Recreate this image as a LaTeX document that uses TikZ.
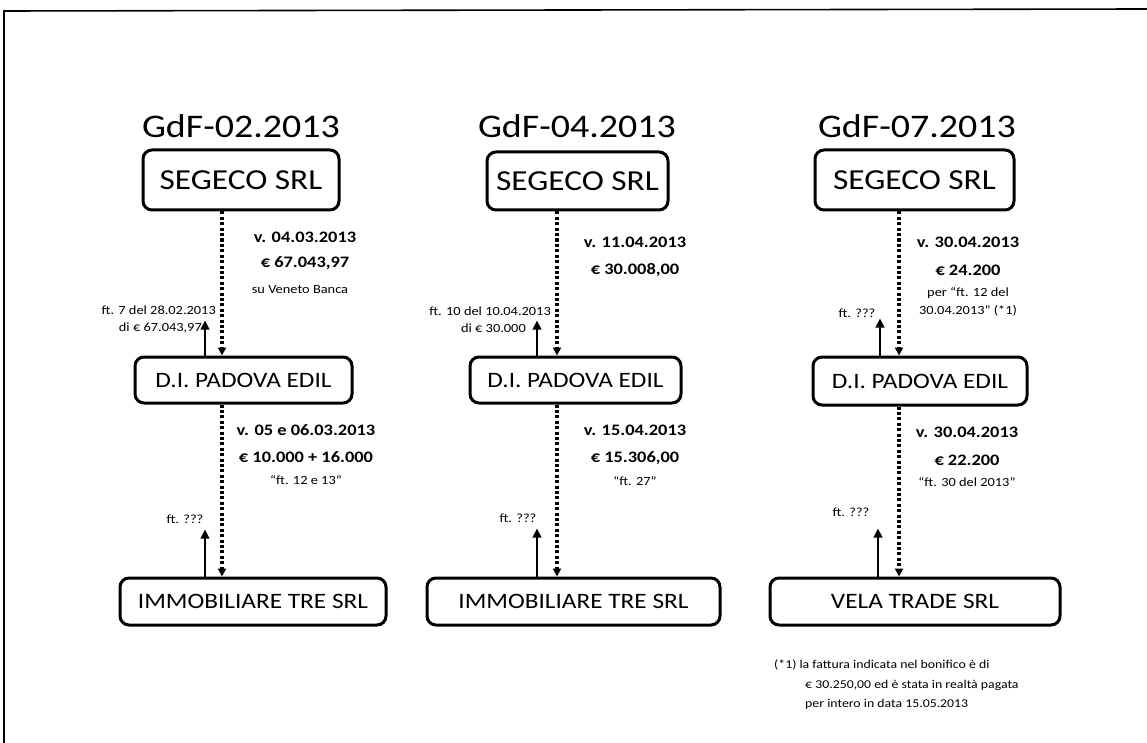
\documentclass[tikz,border=0pt]{standalone}
\usepackage{fontspec}
\setmainfont[FakeStretch=1.15]{Carlito}
\usetikzlibrary{arrows.meta}
\tikzset{
  box/.style={draw, line width=3pt, rounded corners=9pt, inner sep=0pt, align=center},
  topbox/.style={box, font=\fontsize{29}{29}\selectfont},
  midbox/.style={box, font=\fontsize{22}{22}\selectfont},
  botbox/.style={box, font=\fontsize{22}{22}\selectfont},
  title/.style={font=\fontsize{33}{33}\selectfont},
  big/.style={font=\bfseries\fontsize{16}{16}\selectfont, inner sep=0pt},
  small/.style={font=\fontsize{12.5}{15}\selectfont, inner sep=0pt},
  dotarrow/.style={line width=3.4pt, dash pattern=on 3pt off 2.4pt, -{Triangle[length=8pt,width=8pt]}},
  uparrow/.style={line width=2.8pt, -{Triangle[length=9pt,width=8.5pt]}},
  frame/.style={line width=1.6pt}
}
\begin{document}
\begin{tikzpicture}[x=1pt,y=-1pt]
\useasboundingbox (0,0) rectangle (1147,743);
% page frame
\coordinate (fa) at (4,743);
\coordinate (fb) at (4,11);
\coordinate (fc) at (1147,9);
\draw[frame] (fa) -- (fb) -- (fc);

% ---------- Column 1 ----------
\node[title] (t1) at (241,126) {GdF-02.2013};
\node[topbox, minimum width=196pt, minimum height=60pt] (s1) at (241,180) {SEGECO SRL};
\node[midbox, minimum width=217pt, minimum height=46pt] (p1) at (243.5,380) {D.I. PADOVA EDIL};
\node[botbox, minimum width=266pt, minimum height=47pt] (b1) at (253,601.5) {IMMOBILIARE TRE SRL};
\coordinate (d1) at (222,0);
\coordinate (u1) at (205,0);
\draw[dotarrow] (d1 |- s1.south) -- (d1 |- p1.north);
\draw[dotarrow] (d1 |- p1.south) -- (d1 |- b1.north);
\draw[uparrow] (u1 |- p1.north) -- ++(0,-35);
\draw[uparrow] (u1 |- b1.north) -- ++(0,-47);
\node[big] (l1a) at (305,237) {v. 04.03.2013};
\node[big] (l1b) at (305,263) {€ 67.043,97};
\node[small] (l1c) at (300,290) {su Veneto Banca};
\node[small, anchor=east] (l1d) at (216,310) {ft. 7 del 28.02.2013};
\node[small, anchor=east] (l1e) at (202,328) {di € 67.043,97};
\node[big] (l1f) at (306,430) {v. 05 e 06.03.2013};
\node[big] (l1g) at (306,457) {€ 10.000 + 16.000};
\node[small] (l1h) at (306,480) {“ft. 12 e 13”};
\node[small] (l1i) at (185,519) {ft. ???};

% ---------- Column 2 ----------
\node[title] (t2) at (577,126) {GdF-04.2013};
\node[topbox, minimum width=181pt, minimum height=58pt] (s2) at (577.5,181) {SEGECO SRL};
\node[midbox, minimum width=211pt, minimum height=46pt] (p2) at (575.5,380) {D.I. PADOVA EDIL};
\node[botbox, minimum width=293pt, minimum height=47pt] (b2) at (573.5,601.5) {IMMOBILIARE TRE SRL};
\coordinate (d2) at (557,0);
\coordinate (u2) at (537,0);
\draw[dotarrow] (d2 |- s2.south) -- (d2 |- p2.north);
\draw[dotarrow] (d2 |- p2.south) -- (d2 |- b2.north);
\draw[uparrow] (u2 |- p2.north) -- ++(0,-35);
\draw[uparrow] (u2 |- b2.north) -- ++(0,-48);
\node[big] (l2a) at (635,242) {v. 11.04.2013};
\node[big] (l2b) at (635,270) {€ 30.008,00};
\node[small, anchor=east] (l2d) at (551,311) {ft. 10 del 10.04.2013};
\node[small, anchor=east] (l2e) at (526,328) {di € 30.000};
\node[big] (l2f) at (635,430) {v. 15.04.2013};
\node[big] (l2g) at (635,458) {€ 15.306,00};
\node[small] (l2h) at (635,481) {“ft. 27”};
\node[small] (l2i) at (518,518) {ft. ???};

% ---------- Column 3 ----------
\node[title] (t3) at (917,126) {GdF-07.2013};
\node[topbox, minimum width=199pt, minimum height=60pt] (s3) at (914.5,180) {SEGECO SRL};
\node[midbox, minimum width=214pt, minimum height=48pt] (p3) at (920,381) {D.I. PADOVA EDIL};
\node[botbox, minimum width=290pt, minimum height=47pt] (b3) at (915,601.5) {VELA TRADE SRL};
\coordinate (d3) at (899,0);
\coordinate (u3) at (880,0);
\coordinate (u3b) at (878,0);
\draw[dotarrow] (d3 |- s3.south) -- (d3 |- p3.north);
\draw[dotarrow] (d3 |- p3.south) -- (d3 |- b3.north);
\draw[uparrow] (u3 |- p3.north) -- ++(0,-37);
\draw[uparrow] (u3b |- b3.north) -- ++(0,-48);
\node[big] (l3a) at (968,242) {v. 30.04.2013};
\node[big] (l3b) at (968,270) {€ 24.200};
\node[small] (l3c) at (968,293) {per “ft. 12 del};
\node[small] (l3c2) at (968,311) {30.04.2013” (*1)};
\node[small] (l3d) at (857,313) {ft. ???};
\node[big] (l3f) at (967,432) {v. 30.04.2013};
\node[big] (l3g) at (967,460) {€ 22.200};
\node[small] (l3h) at (967,482) {“ft. 30 del 2013”};
\node[small] (l3i) at (851,512) {ft. ???};

% footnote
\node[small, anchor=north west, align=left, font=\fontsize{12}{19.5}\selectfont] (fn) at (774,660)
  {(*1) la fattura indicata nel bonifico è di\\
   \hspace*{31pt}€ 30.250,00 ed è stata in realtà pagata\\
   \hspace*{31pt}per intero in data 15.05.2013};
\end{tikzpicture}
\end{document}
